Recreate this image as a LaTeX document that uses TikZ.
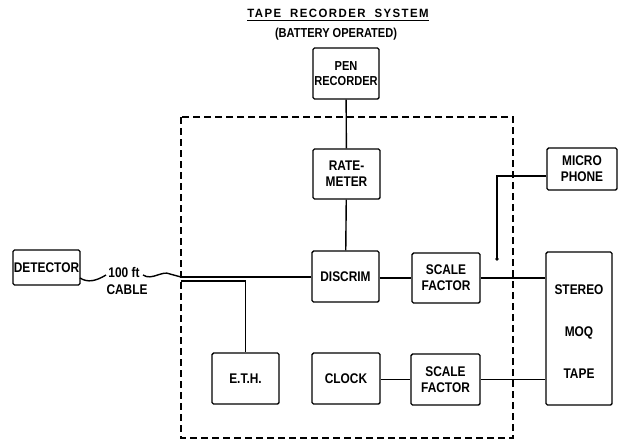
\documentclass[tikz,border=0pt]{standalone}
\usepackage{fontspec}
\setmainfont{Liberation Sans}[FakeStretch=0.85]
\newfontfamily\titlefont{Liberation Sans}[FakeStretch=0.95,LetterSpace=12]
\begin{document}
\begin{tikzpicture}[x=1pt,y=-1pt,
  blk/.style={draw,line width=1.4pt,rounded corners=1.5pt,inner sep=1pt,align=center,
    font=\fontsize{14}{16}\selectfont\bfseries},
  wire/.style={line width=1.4pt},
  lbl/.style={font=\fontsize{14}{16}\selectfont\bfseries,inner sep=0pt}]
\useasboundingbox (0,0) rectangle (618,445);
% title
\node[inner sep=0pt,font=\titlefont\fontsize{12}{14}\selectfont\bfseries] (title) at (338,13) {TAPE\hspace{9pt}RECORDER\hspace{9pt}SYSTEM};
\draw[line width=1.2pt] (title.south west)++(0,3) coordinate (u1) -- (title.south east |- u1);
\node[inner sep=0pt,font=\fontsize{13}{14}\selectfont\bfseries] (sub) at (336,34) {(BATTERY OPERATED)};
% dashed enclosure
\draw[line width=1.3pt,dash pattern=on 7pt off 4pt] (181,117) rectangle (513,438);
% boxes
\node[blk,minimum width=66,minimum height=51,font=\fontsize{13}{15}\selectfont\bfseries] (pen) at (346,73.5) {PEN\\RECORDER};
\node[blk,minimum width=67,minimum height=50] (rate) at (346.5,174) {RATE-\\METER};
\node[blk,minimum width=67,minimum height=51] (disc) at (345.5,276.5) {DISCRIM};
\node[blk,minimum width=68,minimum height=50] (sf1) at (446,278) {SCALE\\FACTOR};
\node[blk,minimum width=69,minimum height=51] (sf2) at (445.5,379.5) {SCALE\\FACTOR};
\node[blk,minimum width=66,minimum height=153] (tape) at (579,328.5) {};
\node[lbl] (t1) at (579,290) {STEREO};
\node[lbl] (t2) at (579,333) {MOQ};
\node[lbl] (t3) at (579,374) {TAPE};
\node[blk,minimum width=70,minimum height=42] (mic) at (582,169) {MICRO\\PHONE};
\node[blk,minimum width=67,minimum height=35,inner sep=0pt] (det) at (46.5,267.5) {DETECTOR};
\node[blk,minimum width=67,minimum height=51] (eth) at (245.5,378.5) {E.T.H.};
\node[blk,minimum width=68,minimum height=51] (clock) at (346,378.5) {CLOCK};
% cable label
\node[lbl] (ft) at (124,272) {100 ft};
\node[lbl] (cab) at (127,290) {CABLE};
% connectors
\draw[wire] (pen) -- (rate);
\draw[wire] (rate) -- (disc);
\coordinate (j) at (181,277);
\coordinate (w0) at (80,278);
\draw[wire] (disc.west |- j) -- (j);
\draw[wire] (w0) .. controls (88,283) and (96,281) .. (106,275);
\draw[wire] (143,275) .. controls (152,281) and (162,270) .. (170,274) -- (j);
\coordinate (j2) at (181,281);
\draw[wire] (j2) -| (eth.north);
\draw[wire] (disc.east |- sf1.west) -- (sf1.west);
\draw[wire] (sf1.east) -- (tape.west |- sf1.east);
\draw[wire] (clock.east |- sf2.west) -- (sf2.west);
\draw[wire] (sf2.east) -- (tape.west |- sf2.east);
\coordinate (m) at (497,259);
\draw[wire] (mic.west |- 0,176) -| (m);
\fill (m) circle (1.8);
\end{tikzpicture}
\end{document}
